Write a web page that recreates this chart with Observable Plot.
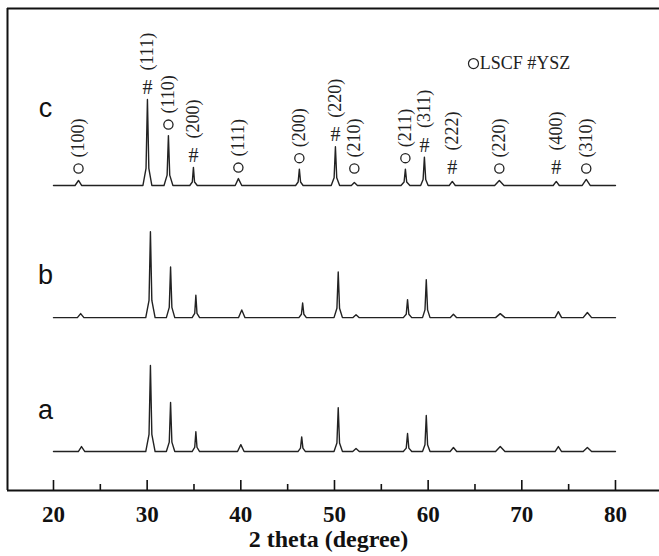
<!DOCTYPE html>
<html>
<head>
<meta charset="utf-8">
<script src="https://cdn.jsdelivr.net/npm/d3@7"></script>
<script src="https://cdn.jsdelivr.net/npm/@observablehq/plot@0.6"></script>
<style>
  html, body { margin: 0; padding: 0; background: #fff; }
  #chart svg { display: block; }
</style>
</head>
<body>
<div id="chart"></div>
<script>
// ---- Data (2 theta in degrees, intensity in a.u., strongest peak = 100) ----
const traceA = [[20,0],[22.65,0],[22.99,5.8],[23.35,0],
  [29.85,0],[30.2,20],[30.35,100],[30.5,20],[30.85,0],
  [32.05,0],[32.36,11],[32.5,57],[32.64,11],[32.95,0],
  [34.8,0],[35.08,5],[35.2,23],[35.32,5],[35.6,0],
  [39.65,0],[40.0,8],[40.35,0],
  [46.1,0],[46.37,4],[46.5,17],[46.63,4],[46.9,0],
  [49.95,0],[50.26,10],[50.4,51],[50.54,10],[50.85,0],
  [51.95,0],[52.3,3.5],[52.65,0],
  [57.35,0],[57.66,4],[57.8,21],[57.94,4],[58.25,0],
  [59.4,0],[59.66,8],[59.8,42],[59.94,8],[60.2,0],
  [62.35,0],[62.7,4.7],[63.05,0],
  [67.2,0],[67.7,5.8],[68.2,0],
  [73.55,0],[73.9,5.8],[74.25,0],
  [76.55,0],[77.0,4.7],[77.45,0],
  [80,0]];
const traceB = [[20,0],[22.55,0],[22.9,4.7],[23.25,0],
  [29.85,0],[30.2,20],[30.35,100],[30.5,20],[30.85,0],
  [32.05,0],[32.36,12],[32.5,59],[32.64,12],[32.95,0],
  [34.8,0],[35.08,5],[35.2,26],[35.32,5],[35.6,0],
  [39.75,0],[40.1,9],[40.45,0],
  [46.2,0],[46.47,4],[46.6,17],[46.73,4],[47.0,0],
  [49.95,0],[50.26,11],[50.4,53],[50.54,11],[50.85,0],
  [51.95,0],[52.3,3.5],[52.65,0],
  [57.35,0],[57.66,4],[57.8,21],[57.94,4],[58.25,0],
  [59.4,0],[59.66,9],[59.8,44],[59.94,9],[60.2,0],
  [62.35,0],[62.7,4],[63.05,0],
  [67.2,0],[67.7,4.7],[68.2,0],
  [73.55,0],[73.9,7],[74.25,0],
  [76.55,0],[77.0,6],[77.45,0],
  [80,0]];
const traceC = [[20,0],[22.3,0],[22.67,5.8],[23.0,0],
  [29.55,0],[29.88,20],[30.03,100],[30.18,20],[30.5,0],
  [31.8,0],[32.13,12],[32.27,58],[32.41,12],[32.75,0],
  [34.55,0],[34.82,4],[34.94,21],[35.06,4],[35.35,0],
  [39.4,0],[39.74,8],[40.1,0],
  [45.85,0],[46.12,4],[46.25,19],[46.38,4],[46.65,0],
  [49.65,0],[49.96,9],[50.10,45],[50.24,9],[50.55,0],
  [51.8,0],[52.12,3.5],[52.45,0],
  [57.1,0],[57.43,4],[57.57,19],[57.71,4],[58.05,0],
  [59.2,0],[59.46,7],[59.6,33],[59.74,7],[60.0,0],
  [62.25,0],[62.58,4.7],[62.9,0],
  [67.1,0],[67.6,5.8],[68.1,0],
  [73.35,0],[73.68,4.7],[74.0,0],
  [76.45,0],[76.88,7],[77.3,0],
  [80,0]];

const sampleNames = ["a", "b", "c"];
const annPos    = [22.67, 30.03, 32.27, 34.94, 39.74, 46.25, 50.10, 52.12, 57.57, 59.6, 62.58, 67.6, 73.68, 76.88];
const annPhase  = ["LSCF","YSZ","LSCF","YSZ","LSCF","LSCF","YSZ","LSCF","LSCF","YSZ","YSZ","LSCF","YSZ","LSCF"];
const annHkl    = ["(100)","(111)","(110)","(200)","(111)","(200)","(220)","(210)","(211)","(311)","(222)","(220)","(400)","(310)"];
const annHeight = [5.8, 100, 58, 21, 8, 19, 45, 3.5, 19, 33, 4.7, 5.8, 4.7, 7];
const xMajorTicks = [20, 30, 40, 50, 60, 70, 80];
const xMinorTicks = [25, 35, 45, 55, 65, 75];
const xLabel = "2 theta (degree)";
const legendText = "LSCF #YSZ";

// ---- Layout ----
const W = 659, H = 556;
const xDom = [15.09, 84.70];
const yDom = [0, 560.5];
const offsets = {a: 45.3, b: 201, c: 354.7};
const traces = {a: traceA, b: traceB, c: traceC};

const lineData = [];
for (const s of sampleNames) {
  for (const [x, y] of traces[s]) lineData.push({sample: s, x, y: y + offsets[s]});
}
const ann = annPos.map((p, i) => ({
  x: p, phase: annPhase[i], hkl: annHkl[i],
  y: offsets.c + Math.max(annHeight[i], 7)
}));
const annL = ann.filter(d => d.phase === "LSCF");
const annY = ann.filter(d => d.phase === "YSZ");

const labelPos = {a: 48, b: 49, c: 89.5};
const serif = "'Liberation Serif', 'Times New Roman', serif";
const sans = "'Liberation Sans', Arial, sans-serif";

const chart = Plot.plot({
  width: W, height: H,
  marginLeft: 7, marginRight: 0, marginTop: 8, marginBottom: 66,
  x: {domain: xDom, axis: null},
  y: {domain: yDom, axis: null},
  style: {background: "#fff", overflow: "visible"},
  marks: [
    // frame
    Plot.ruleX([xDom[0]], {stroke: "#111", strokeWidth: 2}),
    Plot.ruleY([yDom[0], yDom[1]], {stroke: "#111", strokeWidth: 2}),
    // ticks (inward)
    Plot.ruleX(xMajorTicks, {x: d => d, y1: 0, y2: 11.6, stroke: "#111", strokeWidth: 1.6}),
    Plot.ruleX(xMinorTicks, {x: d => d, y1: 0, y2: 7, stroke: "#111", strokeWidth: 1.6}),
    Plot.text(xMajorTicks, {x: d => d, y: 0, dy: 24, text: d => String(d),
      fontFamily: serif, fontWeight: "bold", fontSize: 23, fill: "#111"}),
    Plot.text([xLabel], {frameAnchor: "bottom", dx: -5, dy: 56, text: d => d,
      fontFamily: serif, fontWeight: "bold", fontSize: 24, fill: "#111"}),
    // traces
    Plot.line(lineData, {x: "x", y: "y", z: "sample", stroke: "#222", strokeWidth: 1.4}),
    Plot.text(sampleNames, {x: 19.15, y: d => offsets[d] + labelPos[d], text: d => d,
      fontFamily: sans, fontSize: 27, fill: "#111"}),
    // annotations
    Plot.dot(annL, {x: "x", y: "y", dy: -11, r: 4.6, stroke: "#222", strokeWidth: 1.3, fill: "none"}),
    Plot.text(annY, {x: "x", y: "y", dy: -12, text: () => "#", fontFamily: serif, fontSize: 20, fill: "#222"}),
    Plot.text(annL, {x: "x", y: "y", dy: -22, text: "hkl", rotate: -90, textAnchor: "start",
      fontFamily: serif, fontSize: 18, fill: "#222"}),
    Plot.text(annY, {x: "x", y: "y", dy: -29, text: "hkl", rotate: -90, textAnchor: "start",
      fontFamily: serif, fontSize: 18, fill: "#222"}),
    // legend
    Plot.dot([legendText], {x: 64.84, y: 496.5, r: 5, stroke: "#222", strokeWidth: 1.2, fill: "none"}),
    Plot.text([legendText], {x: 65.5, y: 496.5, text: d => d, textAnchor: "start",
      fontFamily: serif, fontSize: 18, fill: "#222"})
  ]
});
document.getElementById("chart").appendChild(chart);
</script>
</body>
</html>
